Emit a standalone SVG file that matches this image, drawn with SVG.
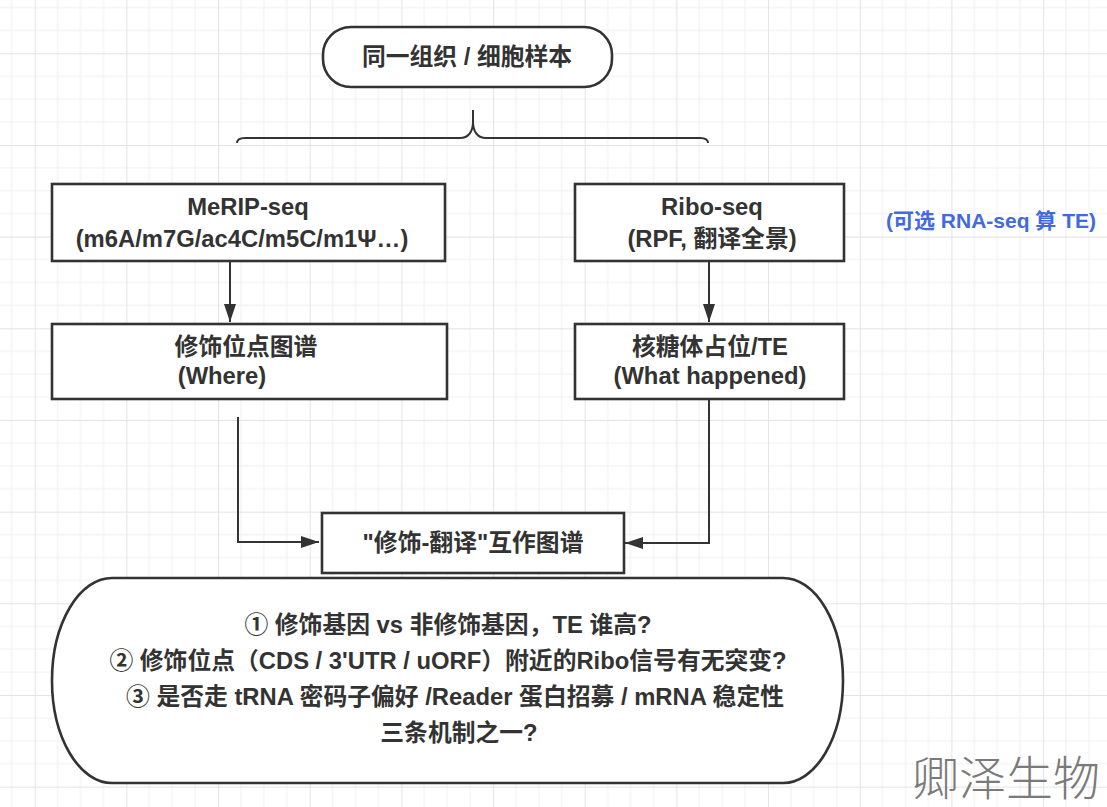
<svg xmlns="http://www.w3.org/2000/svg" width="1107" height="807" viewBox="0 0 1107 807">
<style>
.t{font-family:"Liberation Sans","Noto Sans CJK SC",sans-serif;font-weight:bold;fill:#333;font-size:23.8px;text-anchor:middle}
.box{fill:#fff;stroke:#333;stroke-width:2.6}
.con{fill:none;stroke:#333;stroke-width:2}
.blue{font-family:"Liberation Sans","Noto Sans CJK SC",sans-serif;font-weight:bold;fill:#4169e1;font-size:21px;text-anchor:middle}
.wm{font-family:"Noto Sans CJK SC",sans-serif;font-weight:300;fill:#7a7a7a;font-size:47px}
</style>
<defs>
<pattern id="grid" patternUnits="userSpaceOnUse" x="34.7" y="53.3" width="91.67" height="91.67">
<path d="M22.92,0V91.67M45.83,0V91.67M68.75,0V91.67M0,22.92H91.67M0,45.83H91.67M0,68.75H91.67" stroke="#f0f0f0" stroke-width="1" fill="none"/>
<path d="M0.5,0V91.67M0,0.5H91.67" stroke="#e3e3e3" stroke-width="1" fill="none"/>
</pattern>
<marker id="arr" viewBox="0 0 18 12" refX="18" refY="6" markerWidth="18" markerHeight="12" markerUnits="userSpaceOnUse" orient="auto">
<path d="M0,0L18,6L0,12Z" fill="#333"/>
</marker>
</defs>
<rect width="1107" height="807" fill="#fff"/>
<rect width="1107" height="807" fill="url(#grid)"/>

<g id="connectors">
<path class="con" d="M237,143C237,139.5 239.5,138 245,138H460C468,138 473,132 473,122V110M473,122C473,132 478,138 486,138H700C705.5,138 708,139.5 708,143"/>
<path class="con" d="M230,262V322" marker-end="url(#arr)"/>
<path class="con" d="M709,262V322" marker-end="url(#arr)"/>
<path class="con" d="M238,417V542H319" marker-end="url(#arr)"/>
<path class="con" d="M709,400V543H625" marker-end="url(#arr)"/>
</g>

<g id="sample">
<rect class="box" x="323" y="27" width="289" height="60" rx="28" ry="28"/>
<text class="t" x="467" y="65">同一组织 / 细胞样本</text>
</g>

<g id="merip">
<rect class="box" x="52" y="184" width="393" height="77"/>
<text class="t" x="248" y="215">MeRIP-seq</text>
<text class="t" x="242" y="247">(m6A/m7G/ac4C/m5C/m1Ψ…)</text>
</g>

<g id="riboseq">
<rect class="box" x="575" y="184" width="269" height="77"/>
<text class="t" x="712" y="215">Ribo-seq</text>
<text class="t" x="712" y="247">(RPF, 翻译全景)</text>
</g>

<g id="note">
<text class="blue" x="991" y="228">(可选 RNA-seq 算 TE)</text>
</g>

<g id="sites">
<rect class="box" x="52" y="324" width="395" height="75"/>
<text class="t" x="246" y="355">修饰位点图谱</text>
<text class="t" x="222" y="384">(Where)</text>
</g>

<g id="occupancy">
<rect class="box" x="575" y="324" width="269" height="75"/>
<text class="t" x="710" y="355">核糖体占位/TE</text>
<text class="t" x="710" y="384">(What happened)</text>
</g>

<g id="map">
<rect class="box" x="322" y="513" width="302" height="60"/>
<text class="t" x="473" y="551">"修饰-翻译"互作图谱</text>
</g>

<g id="questions">
<path class="box" d="M112,578H783A60,102.5 0 0 1 783,783H112A60,102.5 0 0 1 112,578Z"/>
<text class="t" x="448" y="633">① 修饰基因 vs 非修饰基因，TE 谁高?</text>
<text class="t" x="448" y="669">② 修饰位点（CDS / 3'UTR / uORF）附近的Ribo信号有无突变?</text>
<text class="t" x="455" y="705">③ 是否走 tRNA 密码子偏好 /Reader 蛋白招募 / mRNA 稳定性</text>
<text class="t" x="459" y="741">三条机制之一?</text>
</g>

<text class="wm" x="912" y="795">卿泽生物</text>
</svg>
